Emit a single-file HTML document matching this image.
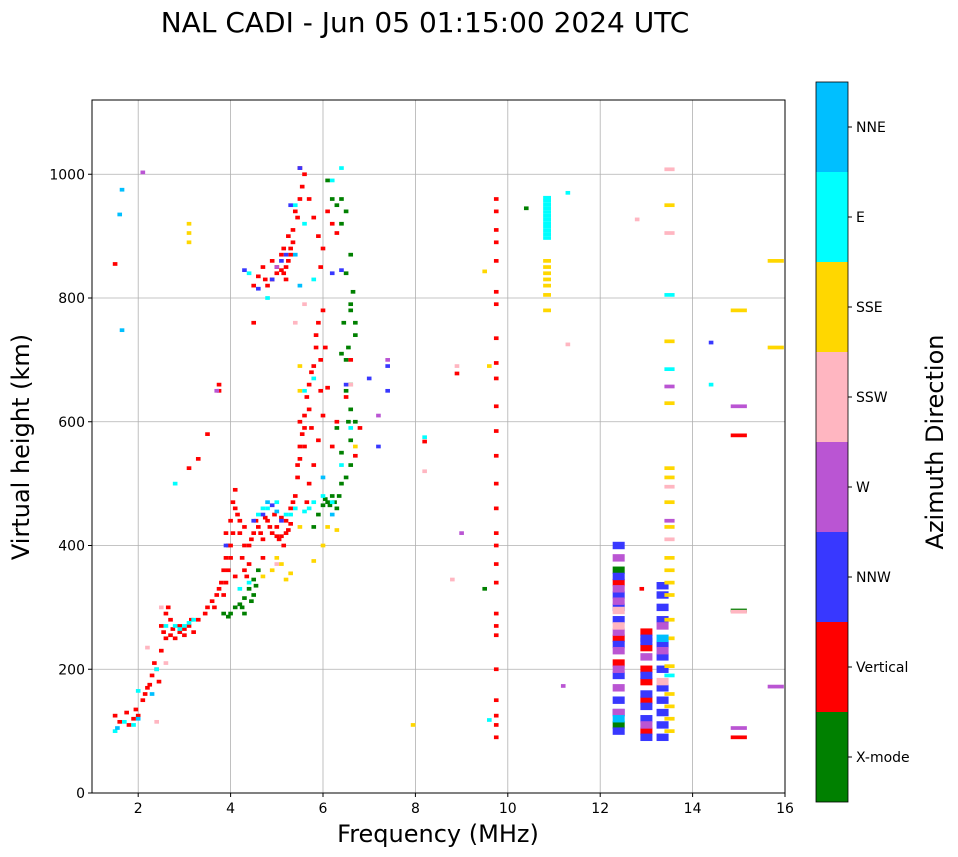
<!DOCTYPE html>
<html><head><meta charset="utf-8"><style>
body{margin:0;background:#fff;}
svg{display:block;font-family:"DejaVu Sans","Liberation Sans",sans-serif;}
</style></head><body>
<svg id="chart" width="958" height="857">
<text x="425" y="32" font-size="28" text-anchor="middle">NAL CADI - Jun 05 01:15:00 2024 UTC</text>
<g id="grid"></g>
<g id="marks"></g>
<rect x="92" y="100" width="693" height="693" fill="none" stroke="#000" stroke-width="1"/>
<g id="axes"></g>
<text x="438" y="842" font-size="24" text-anchor="middle">Frequency (MHz)</text>
<text transform="translate(29,447) rotate(-90)" font-size="24" text-anchor="middle">Virtual height (km)</text>
<g id="cbar"></g>
<text transform="translate(943,442) rotate(-90)" font-size="24" text-anchor="middle">Azimuth Direction</text>
</svg>
<script>
const xTicks=[2,4,6,8,10,12,14,16];
const yTicks=[0,200,400,600,800,1000];
const categories=["X-mode","Vertical","NNW","W","SSW","SSE","E","NNE"];
const catColors=["#008000","#ff0000","#3838ff","#ba55d3","#ffb6c1","#ffd700","#00ffff","#00bfff"];

const xmode=[[4.0,290],[4.1,300],[4.2,305],[4.3,315],[4.4,330],[4.5,345],[4.6,360],[3.85,290],[3.95,285],[5.8,430],[5.9,450],[6.0,465],[6.1,470],[6.2,480],[6.3,460],[6.5,510],[6.6,530],[6.4,550],[6.7,600],[6.6,620],[6.5,650],[6.4,710],[6.7,740],[6.6,790],[6.5,840],[6.6,870],[6.2,960],[6.3,950],[6.4,960],[6.5,940],[6.1,990],[6.4,920],[10.4,945],[12.4,110],[12.4,360],[13.3,300],[15.0,295],[9.5,330],[6.6,780],[6.7,760],[6.5,700],[6.3,590],[6.6,570],[6.4,500],[4.5,320],[4.3,290],[4.45,310],[4.55,335],[4.25,300],[6.05,475],[6.15,465],[6.25,470],[6.35,480],[6.55,600],[6.6,660],[6.45,760],[6.55,720],[6.65,810]];
const vertical=[[1.5,125],[1.6,115],[1.75,130],[1.8,110],[1.9,120],[2.0,125],[2.1,150],[2.15,160],[2.25,175],[2.3,190],[2.4,200],[2.45,180],[2.5,230],[2.55,260],[2.6,290],[2.65,300],[2.7,255],[2.75,265],[2.8,250],[2.9,260],[3.0,255],[3.1,270],[3.2,260],[3.3,280],[3.45,290],[3.5,300],[3.6,310],[3.7,320],[3.75,330],[3.8,340],[3.85,360],[3.9,380],[3.95,400],[3.9,420],[4.0,440],[4.05,470],[4.1,490],[4.15,450],[4.2,420],[4.25,380],[4.3,360],[4.35,350],[4.4,370],[4.45,410],[4.5,420],[4.6,430],[4.7,410],[4.8,440],[4.9,420],[5.0,430],[5.1,445],[5.2,420],[5.3,435],[5.05,410],[5.15,400],[4.95,450],[5.4,480],[5.45,510],[5.5,540],[5.55,580],[5.6,610],[5.65,640],[5.7,660],[5.8,690],[5.85,720],[5.9,760],[6.0,780],[6.05,720],[6.1,655],[6.0,610],[5.9,570],[5.8,530],[5.7,500],[6.2,560],[6.3,600],[6.5,640],[6.6,700],[6.8,590],[6.7,545],[3.3,540],[3.1,525],[3.5,580],[3.75,650],[3.75,660],[4.5,760],[1.5,855],[4.1,350],[4.3,400],[4.7,380],[5.1,415],[3.9,340],[4.0,380],[2.9,270],[2.6,250],[5.3,460],[5.5,600],[5.6,560],[5.75,590],[5.95,650],
[4.0,400],[4.05,420],[3.95,360],[4.1,460],[4.2,440],[4.3,430],[4.4,400],[4.55,440],[4.65,420],[4.75,445],[4.85,430],[5.0,415],[5.2,440],[5.25,425],[5.35,470],[5.45,530],[5.5,560],[5.6,590],[5.7,620],[5.75,680],[5.85,740],[5.95,700],[5.65,470],[2.35,210],[2.5,270],[2.7,280],[3.0,265],[3.15,280],[2.2,170],[1.95,135],[3.85,320],[3.65,300],
[4.5,820],[4.6,835],[4.7,850],[4.8,820],[4.9,860],[5.0,840],[5.1,870],[5.15,880],[5.2,850],[5.25,900],[5.3,870],[5.35,890],[5.4,940],[5.45,930],[5.5,960],[5.55,980],[5.6,1000],[5.7,960],[5.8,930],[5.9,900],[6.0,880],[5.95,850],[6.1,940],[6.2,920],[6.3,905],[5.5,1010],[4.9,830],[5.1,845],[5.2,830],[5.0,850],[5.3,880],[5.25,860],[5.15,840],[4.75,830],[5.35,910],
[9.75,90],[9.75,110],[9.75,125],[9.75,150],[9.75,200],[9.75,255],[9.75,270],[9.75,290],[9.75,340],[9.75,370],[9.75,400],[9.75,420],[9.75,460],[9.75,500],[9.75,545],[9.75,585],[9.75,625],[9.75,670],[9.75,695],[9.75,735],[9.75,790],[9.75,810],[9.75,860],[9.75,890],[9.75,910],[9.75,940],[9.75,960],
[13.0,100],[13.0,150],[13.0,180],[13.0,200],[13.0,235],[13.0,260],[12.9,330],[12.4,210],[12.4,250],[12.4,340],[15.0,90],[15.0,578],[8.2,568],[8.9,678]];
const nnw=[[4.3,845],[4.6,815],[4.9,830],[5.1,860],[5.3,950],[5.5,1010],[4.5,440],[4.7,450],[4.9,465],[5.1,440],[3.9,400],[6.4,845],[6.5,660],[7.0,670],[7.2,560],[7.4,690],[7.4,650],[14.4,728],[5.2,870],[6.2,840],
[12.4,100],[12.4,130],[12.4,150],[12.4,190],[12.4,240],[12.4,280],[12.4,300],[12.4,320],[12.4,350],[12.4,400],
[13.0,90],[13.0,120],[13.0,140],[13.0,160],[13.0,190],[13.0,245],[13.0,250],
[13.35,90],[13.35,110],[13.35,130],[13.35,150],[13.35,170],[13.35,200],[13.35,220],[13.35,240],[13.35,280],[13.35,300],[13.35,320],[13.35,335]];
const west=[[2.1,1003],[7.4,700],[7.2,610],[9.0,420],[11.2,173],[15.8,172],[15.0,105],[15.0,625],[13.5,657],[13.5,440],[12.4,130],[12.4,170],[12.4,200],[12.4,230],[12.4,260],[12.4,310],[12.4,330],[12.4,380],[13.0,110],[13.0,220],[13.35,230],[13.35,270],[3.7,650],[5.0,850]];
const ssw=[[2.5,300],[2.6,210],[2.4,115],[2.2,235],[6.6,660],[5.6,790],[5.0,370],[8.9,690],[8.8,345],[8.2,520],[12.8,927],[13.5,1008],[13.5,905],[13.5,495],[13.5,410],[15.0,293],[12.4,270],[12.4,295],[13.35,180],[11.3,725],[5.4,760]];
const sse=[[3.1,920],[3.1,905],[3.1,890],[4.9,360],[5.0,380],[5.1,370],[5.3,355],[5.2,345],[5.5,650],[5.5,690],[5.5,430],[5.8,375],[6.1,430],[6.3,425],[6.0,400],[7.95,110],[9.5,843],[9.6,690],[10.85,860],[10.85,840],[10.85,820],[10.85,805],[10.85,780],[13.5,950],[13.5,730],[13.5,630],[13.5,525],[13.5,510],[13.5,470],[13.5,430],[13.5,380],[13.5,360],[13.5,340],[13.5,320],[13.5,280],[13.5,250],[13.5,205],[13.5,160],[13.5,140],[13.5,120],[13.5,100],[15.0,780],[15.8,720],[15.8,860],[6.7,560],[4.7,350],[10.85,850],[10.85,830]];
const east=[[1.5,100],[1.7,115],[2.0,165],[1.9,110],[2.4,200],[2.6,270],[2.8,270],[3.0,270],[3.2,280],[4.2,330],[4.4,340],[4.6,450],[4.8,460],[5.0,470],[5.2,450],[5.4,460],[5.6,455],[5.8,470],[6.0,480],[6.2,470],[6.4,530],[5.6,650],[5.8,670],[4.4,840],[4.8,800],[5.4,950],[5.6,920],[6.4,1010],[6.2,990],[10.85,897],[10.85,903],[10.85,909],[10.85,915],[10.85,921],[10.85,927],[10.85,933],[10.85,939],[10.85,945],[10.85,951],[10.85,957],[10.85,962],[11.3,970],[13.5,685],[13.5,805],[14.4,660],[13.5,190],[9.6,118],[2.8,500],[8.2,575],[5.8,830],[6.6,590],[2.9,265],[3.1,275],[4.7,460],[5.3,450],[5.7,460]];
const nne=[[1.55,105],[1.65,975],[1.6,935],[1.65,748],[2.0,120],[2.3,160],[5.5,820],[5.4,870],[4.8,470],[5.0,455],[6.0,510],[6.2,450],[12.4,120],[13.35,250]];
const series=[xmode,vertical,nnw,west,ssw,sse,east,nne];

const X0=92,X1=785,Y0=793,Y1=100,FMIN=1,FMAX=16,HMIN=0,HMAX=1120;
const NS="http://www.w3.org/2000/svg";
function sx(f){return X0+(f-FMIN)/(FMAX-FMIN)*(X1-X0);}
function sy(h){return Y0-(h-HMIN)/(HMAX-HMIN)*(Y0-Y1);}
function mk(t,a,p){const e=document.createElementNS(NS,t);for(const k in a)e.setAttribute(k,a[k]);p.appendChild(e);return e;}
function markWidth(f){
  if(Math.abs(f-12.4)<0.05||Math.abs(f-13.0)<0.05||Math.abs(f-13.35)<0.03) return 0.26;
  if(Math.abs(f-15.0)<0.05||Math.abs(f-15.8)<0.05) return 0.35;
  if(Math.abs(f-10.85)<0.05) return 0.17;
  if(Math.abs(f-13.5)<0.03) return 0.22;
  return 0.1;
}
function markHeight(f){return markWidth(f)>=0.26&&f<13.4?12:6;}
const grid=document.getElementById('grid'),axes=document.getElementById('axes'),marks=document.getElementById('marks'),cbar=document.getElementById('cbar');
xTicks.forEach(t=>{
  const x=sx(t);
  const g=mk('line',{x1:x,x2:x,y1:Y1,y2:Y0,stroke:'#b0b0b0','stroke-width':0.8},grid);
  
  
  mk('line',{x1:x,x2:x,y1:Y0,y2:Y0+4,stroke:'#000'},axes);
  const l=mk('text',{x:x,y:Y0+20,'font-size':14,'text-anchor':'middle'},axes);
  l.textContent=t;
  
  
});
yTicks.forEach(t=>{
  const y=sy(t);
  const g=mk('line',{x1:X0,x2:X1,y1:y,y2:y,stroke:'#b0b0b0','stroke-width':0.8},grid);
  
  
  mk('line',{x1:X0-4,x2:X0,y1:y,y2:y,stroke:'#000'},axes);
  const l=mk('text',{x:X0-7,y:y+5,'font-size':14,'text-anchor':'end'},axes);
  l.textContent=t;
  
  
});
series.forEach((pts,ci)=>{
  pts.forEach(p=>{
    const w=markWidth(p[0]),hh=markHeight(p[0]);
    const x=sx(p[0]-w/2),y=sy(p[1]+hh/2);
    const r=mk('rect',{x:x,y:y,width:sx(p[0]+w/2)-x,height:sy(p[1]-hh/2)-y,fill:catColors[ci]},marks);
    
    
  });
});
const CB_X=816,CB_W=32,CB_TOP=82,CB_BOT=802,n=categories.length,seg=(CB_BOT-CB_TOP)/n;
categories.forEach((c,i)=>{
  const y=CB_BOT-(i+1)*seg;
  const r=mk('rect',{x:CB_X,y:y,width:CB_W,height:seg,fill:catColors[i]},cbar);
  
  
  mk('line',{x1:CB_X+CB_W,x2:CB_X+CB_W+4,y1:y+seg/2,y2:y+seg/2,stroke:'#000'},cbar);
  const t=mk('text',{x:CB_X+CB_W+8,y:y+seg/2+5,'font-size':14},cbar);
  t.textContent=c;
  
  
});
mk('rect',{x:CB_X,y:CB_TOP,width:CB_W,height:CB_BOT-CB_TOP,fill:'none',stroke:'#000','stroke-width':0.8},cbar);
</script>
</body></html>
